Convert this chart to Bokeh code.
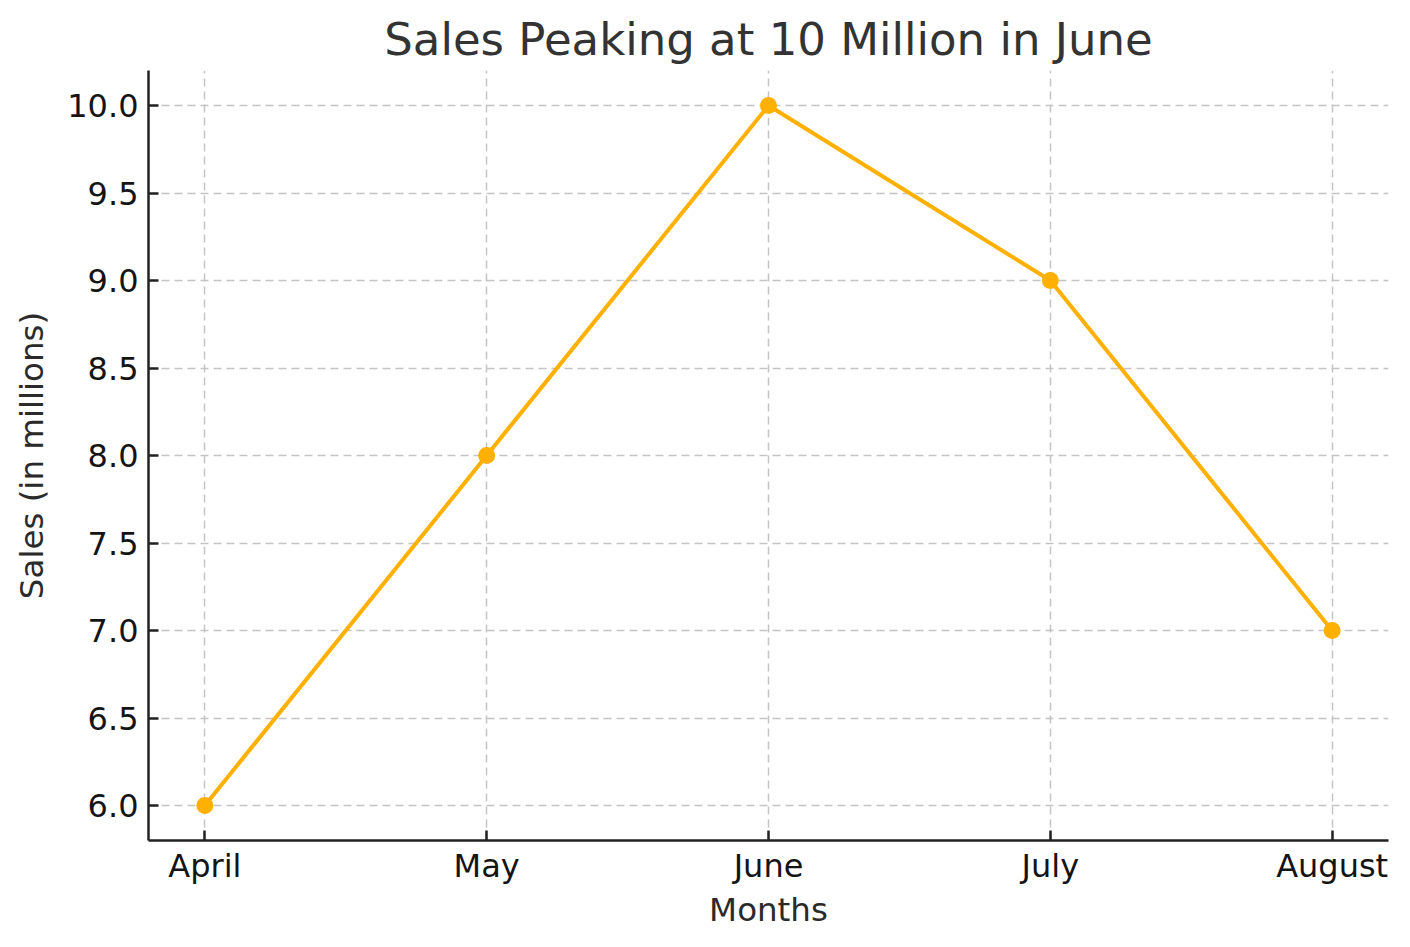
from bokeh.plotting import figure
from bokeh.models import ColumnDataSource, Range1d, FixedTicker, NumeralTickFormatter
from bokeh.embed import file_html
from bokeh.resources import INLINE

months = ["April", "May", "June", "July", "August"]
sales = [6, 8, 10, 9, 7]
y_ticks = [6.0, 6.5, 7.0, 7.5, 8.0, 8.5, 9.0, 9.5, 10.0]

FONT = "DejaVu Sans"
ORANGE = "#FFB000"

src = ColumnDataSource(data={"x": list(range(len(months))), "y": sales})

p = figure(width=1402, height=939, output_backend="svg", toolbar_location=None,
           x_range=Range1d(-0.2, len(months) - 1 + 0.2), y_range=Range1d(5.8, 10.2),
           min_border_left=148, min_border_right=14, min_border_top=70, min_border_bottom=99)
p.outline_line_color = None

p.title.text = "Sales Peaking at 10 Million in June"
p.title.align = "center"
p.title.text_font = FONT
p.title.text_font_size = "45px"
p.title.text_font_style = "normal"
p.title.text_color = "#333333"
p.title.standoff = 9

p.line(x="x", y="y", source=src, line_color=ORANGE, line_width=4)
p.scatter(x="x", y="y", source=src, size=17, fill_color=ORANGE, line_color=None)

p.xaxis.ticker = FixedTicker(ticks=list(range(len(months))))
p.xaxis.major_label_overrides = {i: m for i, m in enumerate(months)}
p.yaxis.ticker = FixedTicker(ticks=y_ticks)
p.yaxis.formatter = NumeralTickFormatter(format="0.0")

p.xaxis.axis_label = "Months"
p.yaxis.axis_label = "Sales (in millions)"

for ax in (p.xaxis, p.yaxis):
    ax.axis_line_color = "#222222"
    ax.axis_line_width = 2.5
    ax.major_tick_line_color = "#222222"
    ax.major_tick_line_width = 2.5
    ax.major_tick_in = 10
    ax.major_tick_out = 0
    ax.minor_tick_line_color = None
    ax.major_label_text_font = FONT
    ax.major_label_text_font_size = "32px"
    ax.major_label_text_color = "#141414"
    ax.axis_label_text_font = FONT
    ax.axis_label_text_font_size = "32.5px"
    ax.axis_label_text_font_style = "normal"
    ax.axis_label_text_color = "#2a2a2a"

p.xaxis.major_label_standoff = 6
p.xaxis.axis_label_standoff = 3
p.yaxis.major_label_standoff = 10
p.yaxis.axis_label_standoff = 13

for g in (p.xgrid, p.ygrid):
    g.grid_line_color = "#c4c4c4"
    g.grid_line_width = 1.5
    g.grid_line_dash = "8 5"

open("out.html", "w").write(file_html(p, INLINE))
